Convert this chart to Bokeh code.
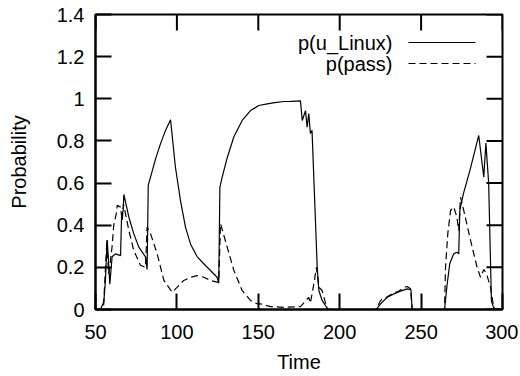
import math
from bokeh.plotting import figure
from bokeh.models import FixedTicker, Range1d, Label, Arrow
from bokeh.embed import file_html
from bokeh.resources import INLINE

# ---- data ----
t_linux = [50, 53, 55.1, 56.1, 57.2, 58.8, 60.2, 62.3, 65.4, 66, 67, 67.4, 70.5, 73.5, 76.6,
           80.7, 81.7, 82.4, 83.8, 86.9, 89.9, 93, 96.1, 99.1, 102.2, 105.3, 108.4, 112.5,
           116.5, 120.6, 124.7, 125.7, 126.4, 127.8, 130.9, 135, 140.1, 145.2, 150.3, 155.5,
           160, 165.7, 170, 175.9, 177, 179, 180, 181, 182, 183, 186.2, 187.2, 189.2, 192.3,
           193.3, 200, 210, 222, 223, 225.1, 229.2, 233.3, 237.3, 241.4, 243, 243.8, 244.5,
           250, 260, 264.4, 266, 267.6, 270, 272, 273.1, 273.8, 274.2, 276, 280, 285.4,
           288.5, 289.8, 291.5, 293.2, 294.5, 296, 300]
p_linux = [0, 0.0, 0.035, 0.138, 0.33, 0.12, 0.25, 0.264, 0.256, 0.438, 0.47, 0.546, 0.438,
           0.36, 0.296, 0.25, 0.19, 0.59, 0.628, 0.715, 0.786, 0.85, 0.90, 0.675, 0.517, 0.39,
           0.31, 0.25, 0.217, 0.185, 0.153, 0.125, 0.58, 0.628, 0.72, 0.82, 0.897, 0.944,
           0.968, 0.976, 0.982, 0.987, 0.988, 0.99, 0.897, 0.944, 0.865, 0.93, 0.835, 0.85,
           0.2, 0.09, 0.043, 0.006, 0, 0, 0, 0, 0.005, 0.027, 0.058, 0.074, 0.087, 0.098,
           0.095, 0.093, 0, 0, 0, 0, 0.12, 0.217, 0.264, 0.272, 0.264, 0.47, 0.486, 0.55,
           0.66, 0.826, 0.628, 0.79, 0.6, 0.04, 0.01, 0, 0]

t_pass = [50, 54, 55, 56, 57, 58, 59, 60.2, 61.2, 62.9, 63.3, 65.4, 66.4, 67.2, 68, 70.5,
          73.5, 77.6, 80.7, 81.7, 83.8, 87.9, 92, 97.1, 100.2, 104.2, 108.4, 112.5, 116.5,
          120.6, 124.7, 125.7, 126.8, 130.9, 135, 140.1, 145.2, 149.3, 151.4, 157.5, 165.7,
          175.9, 179, 181, 182, 184.1, 185.7, 187.2, 189.2, 191.3, 192.7, 200, 210, 222,
          223, 225.1, 229.2, 233.3, 236, 239.4, 241.4, 243.5, 244.5, 250, 260, 264.4, 265,
          266.4, 268.1, 270.1, 272, 273.1, 274.2, 276.2, 280.3, 284.4, 286.5, 288.5, 290.2,
          292.6, 294.6, 296, 300]
p_pass = [0, 0, 0.02, 0.18, 0.33, 0.17, 0.22, 0.3, 0.40, 0.46, 0.494, 0.486, 0.42, 0.50,
          0.47, 0.375, 0.28, 0.21, 0.2, 0.39, 0.36, 0.264, 0.138, 0.082, 0.106, 0.138, 0.153,
          0.161, 0.153, 0.138, 0.13, 0.13, 0.407, 0.296, 0.185, 0.09, 0.043, 0.027, 0.027,
          0.014, 0.01, 0.014, 0.04, 0.058, 0.03, 0.12, 0.2, 0.106, 0.09, 0.03, 0, 0, 0, 0,
          0.01, 0.043, 0.06, 0.08, 0.085, 0.104, 0.109, 0.098, 0, 0, 0, 0, 0.2, 0.36, 0.47,
          0.486, 0.438, 0.375, 0.533, 0.47, 0.33, 0.2, 0.153, 0.19, 0.17, 0.106, 0.01, 0, 0]

x_ticks = [50, 100, 150, 200, 250, 300]
y_ticks = [0, 0.2, 0.4, 0.6, 0.8, 1, 1.2, 1.4]
y_tick_labels = ["0", "0.2", "0.4", "0.6", "0.8", "1", "1.2", "1.4"]
legend_labels = ["p(u_Linux)", "p(pass)"]

FONT = "Liberation Sans"
FS = "20px"
X0, X1 = 50, 300
Y0, Y1 = 0, 1.4

p = figure(width=518, height=375, output_backend="svg", toolbar_location=None,
           x_range=Range1d(X0, X1), y_range=Range1d(Y0, Y1),
           min_border_left=95, min_border_right=16, min_border_top=14, min_border_bottom=66,
           x_axis_label="Time", y_axis_label="Probability")
p.grid.visible = False
p.outline_line_color = "black"
p.outline_line_width = 2
p.background_fill_color = "white"
p.border_fill_color = "white"

p.line(t_linux, p_linux, line_color="black", line_width=1.2)
p.line(t_pass, p_pass, line_color="black", line_width=1.2, line_dash="7 4")

def style_axis(ax):
    ax.axis_line_width = 2
    ax.axis_line_color = "black"
    ax.major_tick_in = 16
    ax.major_tick_out = 0
    ax.major_tick_line_width = 2
    ax.minor_tick_line_color = None
    ax.major_label_text_font = FONT
    ax.major_label_text_font_size = FS
    ax.major_label_text_color = "black"
    ax.axis_label_text_font = FONT
    ax.axis_label_text_font_size = FS
    ax.axis_label_text_font_style = "normal"
    ax.axis_label_text_color = "black"

xa = p.xaxis[0]
ya = p.yaxis[0]
xa.ticker = FixedTicker(ticks=x_ticks)
ya.ticker = FixedTicker(ticks=y_ticks)
ya.major_label_overrides = {v: s for v, s in zip(y_ticks, y_tick_labels)}
style_axis(xa)
style_axis(ya)
xa.major_label_standoff = 15
ya.major_label_standoff = 11
xa.axis_label_standoff = 9
ya.axis_label_standoff = 24

# mirrored ticks on top and right edges (gnuplot style), 16px inward
p.ray(x=x_ticks, y=[Y1] * len(x_ticks), length=16, length_units="screen",
      angle=-math.pi / 2, line_color="black", line_width=2)
p.ray(x=[X1] * len(y_ticks), y=y_ticks, length=16, length_units="screen",
      angle=math.pi, line_color="black", line_width=2)

# legend (gnuplot style: text right-aligned, sample on the right)
rows_y = [267, 246]
dashes = ["solid", "7 4"]
for lab, yy, dash in zip(legend_labels, rows_y, dashes):
    p.add_layout(Label(x=297, y=yy, x_units="screen", y_units="screen", text=lab,
                       text_align="right", text_baseline="middle",
                       text_font=FONT, text_font_size=FS, text_color="black"))
    p.add_layout(Arrow(end=None, x_start=313, y_start=yy, x_end=380, y_end=yy,
                       start_units="screen", end_units="screen",
                       line_color="black", line_width=1.2, line_dash=dash))

open("out.html", "w").write(file_html(p, INLINE))
